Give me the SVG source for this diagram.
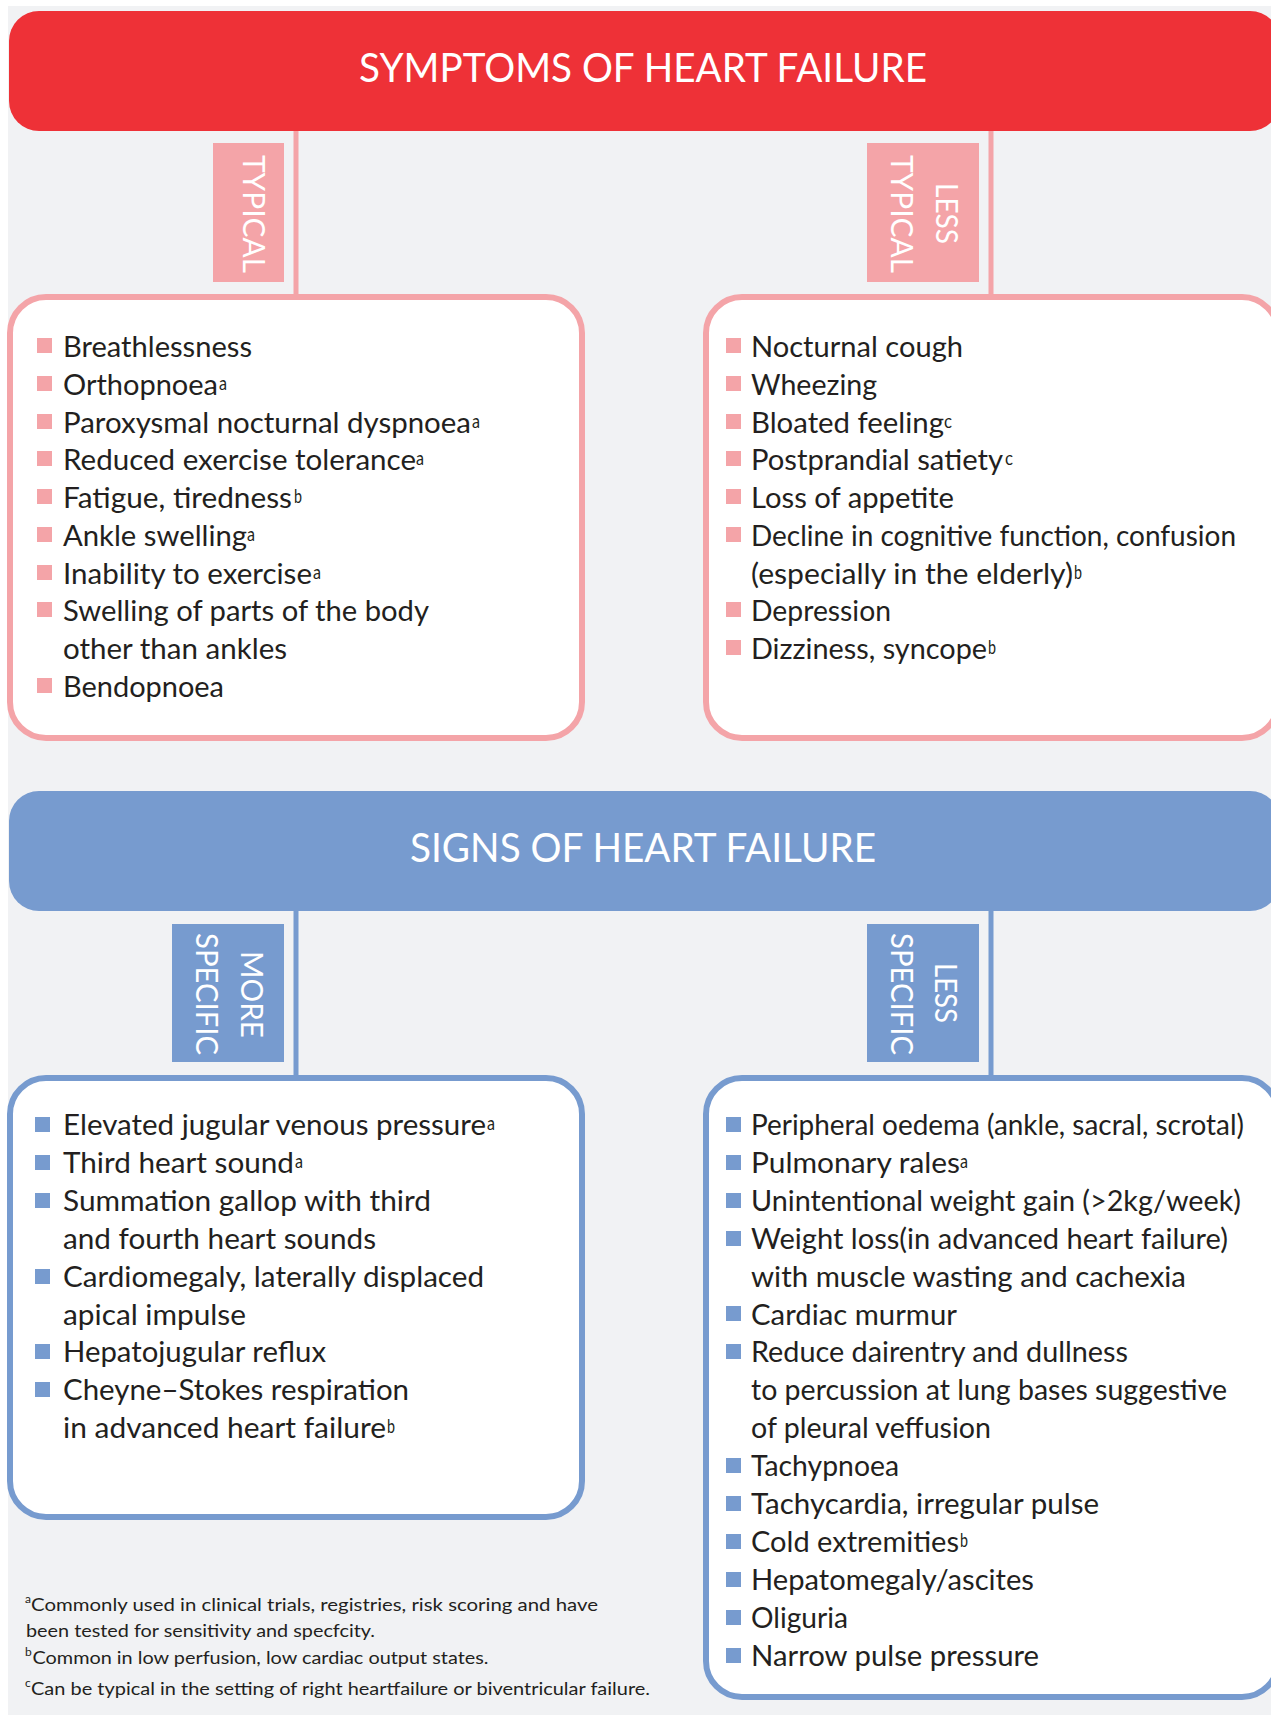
<svg xmlns="http://www.w3.org/2000/svg" width="1271" height="1715" viewBox="0 0 1271 1715">
<style>
.bg{fill:#f1f2f4}
.red{fill:#ee3137}
.blue{fill:#779bcf}
.pink{fill:#f4a4a8}
.boxp{fill:#fff;stroke:#f4a4a8;stroke-width:6}
.boxb{fill:#fff;stroke:#779bcf;stroke-width:6}
.title{font-family:Lato,"Liberation Sans",sans-serif;font-size:40px;fill:#fff;text-anchor:middle}
.lbl{font-family:Lato,"Liberation Sans",sans-serif;font-size:31px;fill:#fff;text-anchor:middle}
.it{font-family:Lato,"Liberation Sans",sans-serif;font-size:28px;fill:#231f20}
.sup{font-family:Lato,"Liberation Sans",sans-serif;font-size:20px;fill:#231f20}
.fn{font-family:Lato,"Liberation Sans",sans-serif;font-size:18px;fill:#231f20}
.fs{font-family:Lato,"Liberation Sans",sans-serif;font-size:12px;fill:#231f20}
.bp{fill:#f4a4a8}
.bb{fill:#779bcf}
</style>
<rect x="0" y="0" width="1271" height="1715" fill="#ffffff"/>
<rect class="bg" x="8" y="6" width="1263" height="1709"/>

<g id="connectors">
  <rect class="pink" x="293.5" y="130" width="5" height="168"/>
  <rect class="pink" x="988.5" y="130" width="5" height="168"/>
  <rect class="blue" x="293.5" y="910" width="5" height="169"/>
  <rect class="blue" x="988.5" y="910" width="5" height="169"/>
</g>

<g id="symptoms-header">
  <rect class="red" x="9" y="11" width="1271" height="120" rx="30" ry="30"/>
  <text class="title" x="643" y="82" textLength="568" lengthAdjust="spacingAndGlyphs">SYMPTOMS OF HEART FAILURE</text>
</g>

<g id="label-typical">
  <rect class="pink" x="213" y="143" width="71" height="139"/>
  <text class="lbl" x="243" y="214" transform="rotate(90 243 214)" textLength="118" lengthAdjust="spacingAndGlyphs">TYPICAL</text>
</g>

<g id="label-less-typical">
  <rect class="pink" x="867" y="143" width="112" height="139"/>
  <text class="lbl" x="936" y="213.5" transform="rotate(90 936 213.5)" textLength="61" lengthAdjust="spacingAndGlyphs">LESS</text>
  <text class="lbl" x="891" y="214" transform="rotate(90 891 214)" textLength="118" lengthAdjust="spacingAndGlyphs">TYPICAL</text>
</g>

<g id="box-typical">
  <rect class="boxp" x="10" y="297" width="572" height="441" rx="36" ry="36"/>
  <rect class="bp" x="37" y="338" width="15" height="15"/>
  <text class="it" x="63" y="357" textLength="189" lengthAdjust="spacingAndGlyphs">Breathlessness</text>
  <rect class="bp" x="37" y="376" width="15" height="15"/>
  <text class="it" x="63" y="395" textLength="155" lengthAdjust="spacingAndGlyphs">Orthopnoea</text>
  <text class="sup" x="219" y="390" textLength="8" lengthAdjust="spacingAndGlyphs">a</text>
  <rect class="bp" x="37" y="414" width="15" height="15"/>
  <text class="it" x="63" y="432.5" textLength="408" lengthAdjust="spacingAndGlyphs">Paroxysmal nocturnal dyspnoea</text>
  <text class="sup" x="472" y="427.5" textLength="8" lengthAdjust="spacingAndGlyphs">a</text>
  <rect class="bp" x="37" y="451" width="15" height="15"/>
  <text class="it" x="63" y="470" textLength="353" lengthAdjust="spacingAndGlyphs">Reduced exercise tolerance</text>
  <text class="sup" x="416" y="465" textLength="8" lengthAdjust="spacingAndGlyphs">a</text>
  <rect class="bp" x="37" y="489" width="15" height="15"/>
  <text class="it" x="63" y="508" textLength="229" lengthAdjust="spacingAndGlyphs">Fatigue, tiredness</text>
  <text class="sup" x="294" y="503" textLength="8" lengthAdjust="spacingAndGlyphs">b</text>
  <rect class="bp" x="37" y="527" width="15" height="15"/>
  <text class="it" x="63" y="546" textLength="184" lengthAdjust="spacingAndGlyphs">Ankle swelling</text>
  <text class="sup" x="247" y="541" textLength="8" lengthAdjust="spacingAndGlyphs">a</text>
  <rect class="bp" x="37" y="565" width="15" height="15"/>
  <text class="it" x="63" y="583.5" textLength="249" lengthAdjust="spacingAndGlyphs">Inability to exercise</text>
  <text class="sup" x="313" y="578.5" textLength="8" lengthAdjust="spacingAndGlyphs">a</text>
  <rect class="bp" x="37" y="602" width="15" height="15"/>
  <text class="it" x="63" y="621" textLength="366" lengthAdjust="spacingAndGlyphs">Swelling of parts of the body</text>
  <text class="it" x="63" y="659" textLength="224" lengthAdjust="spacingAndGlyphs">other than ankles</text>
  <rect class="bp" x="37" y="678" width="15" height="15"/>
  <text class="it" x="63" y="697" textLength="161" lengthAdjust="spacingAndGlyphs">Bendopnoea</text>
</g>

<g id="box-less-typical">
  <rect class="boxp" x="706" y="297" width="572" height="441" rx="36" ry="36"/>
  <rect class="bp" x="726" y="338" width="15" height="15"/>
  <text class="it" x="751" y="357" textLength="212" lengthAdjust="spacingAndGlyphs">Nocturnal cough</text>
  <rect class="bp" x="726" y="376" width="15" height="15"/>
  <text class="it" x="751" y="395" textLength="126" lengthAdjust="spacingAndGlyphs">Wheezing</text>
  <rect class="bp" x="726" y="414" width="15" height="15"/>
  <text class="it" x="751" y="432.5" textLength="193" lengthAdjust="spacingAndGlyphs">Bloated feeling</text>
  <text class="sup" x="944" y="427.5" textLength="8" lengthAdjust="spacingAndGlyphs">c</text>
  <rect class="bp" x="726" y="451" width="15" height="15"/>
  <text class="it" x="751" y="470" textLength="252" lengthAdjust="spacingAndGlyphs">Postprandial satiety</text>
  <text class="sup" x="1005" y="465" textLength="8" lengthAdjust="spacingAndGlyphs">c</text>
  <rect class="bp" x="726" y="489" width="15" height="15"/>
  <text class="it" x="751" y="508" textLength="203" lengthAdjust="spacingAndGlyphs">Loss of appetite</text>
  <rect class="bp" x="726" y="527" width="15" height="15"/>
  <text class="it" x="751" y="546" textLength="485" lengthAdjust="spacingAndGlyphs">Decline in cognitive function, confusion</text>
  <text class="it" x="751" y="583.5" textLength="322" lengthAdjust="spacingAndGlyphs">(especially in the elderly)</text>
  <text class="sup" x="1074" y="578.5" textLength="8" lengthAdjust="spacingAndGlyphs">b</text>
  <rect class="bp" x="726" y="602" width="15" height="15"/>
  <text class="it" x="751" y="621" textLength="140" lengthAdjust="spacingAndGlyphs">Depression</text>
  <rect class="bp" x="726" y="640" width="15" height="15"/>
  <text class="it" x="751" y="659" textLength="236" lengthAdjust="spacingAndGlyphs">Dizziness, syncope</text>
  <text class="sup" x="988" y="654" textLength="8" lengthAdjust="spacingAndGlyphs">b</text>
</g>

<g id="signs-header">
  <rect class="blue" x="9" y="791" width="1271" height="120" rx="30" ry="30"/>
  <text class="title" x="643" y="862" textLength="466" lengthAdjust="spacingAndGlyphs">SIGNS OF HEART FAILURE</text>
</g>

<g id="label-more-specific">
  <rect class="blue" x="172" y="924" width="112" height="138"/>
  <text class="lbl" x="241" y="994.5" transform="rotate(90 241 994.5)" textLength="87" lengthAdjust="spacingAndGlyphs">MORE</text>
  <text class="lbl" x="196" y="994" transform="rotate(90 196 994)" textLength="122" lengthAdjust="spacingAndGlyphs">SPECIFIC</text>
</g>

<g id="label-less-specific">
  <rect class="blue" x="867" y="924" width="112" height="138"/>
  <text class="lbl" x="935" y="993" transform="rotate(90 935 993)" textLength="60" lengthAdjust="spacingAndGlyphs">LESS</text>
  <text class="lbl" x="891" y="994" transform="rotate(90 891 994)" textLength="122" lengthAdjust="spacingAndGlyphs">SPECIFIC</text>
</g>

<g id="box-more-specific">
  <rect class="boxb" x="10" y="1078" width="572" height="439" rx="36" ry="36"/>
  <rect class="bb" x="35" y="1117" width="15" height="15"/>
  <text class="it" x="63" y="1135" textLength="423" lengthAdjust="spacingAndGlyphs">Elevated jugular venous pressure</text>
  <text class="sup" x="487" y="1130" textLength="8" lengthAdjust="spacingAndGlyphs">a</text>
  <rect class="bb" x="35" y="1155" width="15" height="15"/>
  <text class="it" x="63" y="1173" textLength="231" lengthAdjust="spacingAndGlyphs">Third heart sound</text>
  <text class="sup" x="295" y="1168" textLength="8" lengthAdjust="spacingAndGlyphs">a</text>
  <rect class="bb" x="35" y="1193" width="15" height="15"/>
  <text class="it" x="63" y="1211" textLength="368" lengthAdjust="spacingAndGlyphs">Summation gallop with third</text>
  <text class="it" x="63" y="1249" textLength="313" lengthAdjust="spacingAndGlyphs">and fourth heart sounds</text>
  <rect class="bb" x="35" y="1269" width="15" height="15"/>
  <text class="it" x="63" y="1287" textLength="421" lengthAdjust="spacingAndGlyphs">Cardiomegaly, laterally displaced</text>
  <text class="it" x="63" y="1324.5" textLength="183" lengthAdjust="spacingAndGlyphs">apical impulse</text>
  <rect class="bb" x="35" y="1344" width="15" height="15"/>
  <text class="it" x="63" y="1362" textLength="263" lengthAdjust="spacingAndGlyphs">Hepatojugular reflux</text>
  <rect class="bb" x="35" y="1382" width="15" height="15"/>
  <text class="it" x="63" y="1400" textLength="346" lengthAdjust="spacingAndGlyphs">Cheyne–Stokes respiration</text>
  <text class="it" x="63" y="1438" textLength="323" lengthAdjust="spacingAndGlyphs">in advanced heart failure</text>
  <text class="sup" x="387" y="1433" textLength="8" lengthAdjust="spacingAndGlyphs">b</text>
</g>

<g id="box-less-specific">
  <rect class="boxb" x="706" y="1078" width="572" height="619" rx="36" ry="36"/>
  <rect class="bb" x="726" y="1117" width="15" height="15"/>
  <text class="it" x="751" y="1135" textLength="493" lengthAdjust="spacingAndGlyphs">Peripheral oedema (ankle, sacral, scrotal)</text>
  <rect class="bb" x="726" y="1155" width="15" height="15"/>
  <text class="it" x="751" y="1173" textLength="209" lengthAdjust="spacingAndGlyphs">Pulmonary rales</text>
  <text class="sup" x="960" y="1168" textLength="8" lengthAdjust="spacingAndGlyphs">a</text>
  <rect class="bb" x="726" y="1193" width="15" height="15"/>
  <text class="it" x="751" y="1211" textLength="490" lengthAdjust="spacingAndGlyphs">Unintentional weight gain (&gt;2kg/week)</text>
  <rect class="bb" x="726" y="1231" width="15" height="15"/>
  <text class="it" x="751" y="1249" textLength="477" lengthAdjust="spacingAndGlyphs">Weight loss(in advanced heart failure)</text>
  <text class="it" x="751" y="1287" textLength="435" lengthAdjust="spacingAndGlyphs">with muscle wasting and cachexia</text>
  <rect class="bb" x="726" y="1306" width="15" height="15"/>
  <text class="it" x="751" y="1324.5" textLength="206" lengthAdjust="spacingAndGlyphs">Cardiac murmur</text>
  <rect class="bb" x="726" y="1344" width="15" height="15"/>
  <text class="it" x="751" y="1362" textLength="377" lengthAdjust="spacingAndGlyphs">Reduce dairentry and dullness</text>
  <text class="it" x="751" y="1400" textLength="476" lengthAdjust="spacingAndGlyphs">to percussion at lung bases suggestive</text>
  <text class="it" x="751" y="1438" textLength="240" lengthAdjust="spacingAndGlyphs">of pleural veffusion</text>
  <rect class="bb" x="726" y="1458" width="15" height="15"/>
  <text class="it" x="751" y="1476" textLength="148" lengthAdjust="spacingAndGlyphs">Tachypnoea</text>
  <rect class="bb" x="726" y="1496" width="15" height="15"/>
  <text class="it" x="751" y="1514" textLength="348" lengthAdjust="spacingAndGlyphs">Tachycardia, irregular pulse</text>
  <rect class="bb" x="726" y="1534" width="15" height="15"/>
  <text class="it" x="751" y="1552" textLength="208" lengthAdjust="spacingAndGlyphs">Cold extremities</text>
  <text class="sup" x="960" y="1547" textLength="8" lengthAdjust="spacingAndGlyphs">b</text>
  <rect class="bb" x="726" y="1572" width="15" height="15"/>
  <text class="it" x="751" y="1590" textLength="283" lengthAdjust="spacingAndGlyphs">Hepatomegaly/ascites</text>
  <rect class="bb" x="726" y="1610" width="15" height="15"/>
  <text class="it" x="751" y="1628" textLength="97" lengthAdjust="spacingAndGlyphs">Oliguria</text>
  <rect class="bb" x="726" y="1648" width="15" height="15"/>
  <text class="it" x="751" y="1666" textLength="288" lengthAdjust="spacingAndGlyphs">Narrow pulse pressure</text>
</g>

<g id="footnotes">
  <text class="fs" x="25" y="1603">a</text>
  <text class="fn" x="31" y="1611" textLength="567" lengthAdjust="spacingAndGlyphs">Commonly used in clinical trials, registries, risk scoring and have</text>
  <text class="fn" x="26" y="1637" textLength="349" lengthAdjust="spacingAndGlyphs">been tested for sensitivity and specfcity.</text>
  <text class="fs" x="25" y="1656">b</text>
  <text class="fn" x="32.5" y="1664" textLength="456" lengthAdjust="spacingAndGlyphs">Common in low perfusion, low cardiac output states.</text>
  <text class="fs" x="25" y="1687">c</text>
  <text class="fn" x="31" y="1695" textLength="619" lengthAdjust="spacingAndGlyphs">Can be typical in the setting of right heartfailure or biventricular failure.</text>
</g>
</svg>
